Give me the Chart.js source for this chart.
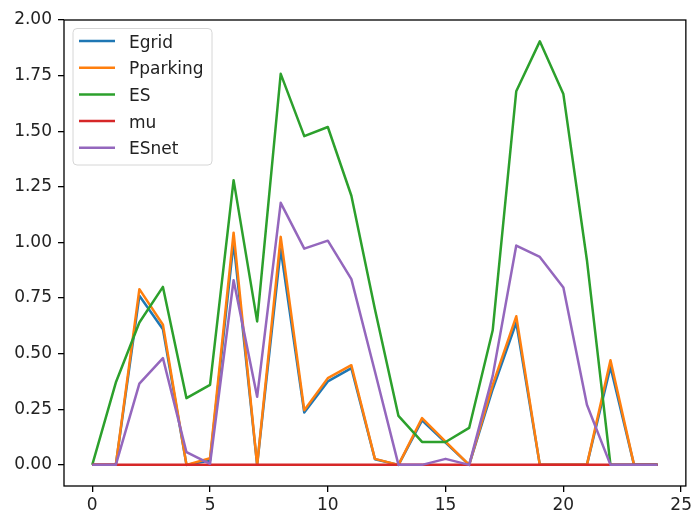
<!DOCTYPE html>
<html lang="en">
<head>
    <meta charset="UTF-8">
    <title>Egrid / Pparking / ES / mu / ESnet</title>
    <script src="https://cdn.jsdelivr.net/npm/chart.js"></script>
    <style>
        body { margin: 0; background: #fff; }
        canvas { display: block; }
    </style>
</head>
<body>
    <canvas id="myChart" width="695" height="516"></canvas>

    <script>
        // values, one per hour
        const hours = [0,1,2,3,4,5,6,7,8,9,10,11,12,13,14,15,16,17,18,19,20,21,22,23,24];
        const egrid = [0,0,0.76,0.61,0,0.02,1.0,0,0.97,0.235,0.375,0.435,0.025,0,0.2,0.1,0,0.34,0.64,0,0,0,0.44,0,0];
        const pparking = [0,0,0.79,0.63,0,0.03,1.044,0,1.025,0.246,0.39,0.448,0.027,0,0.21,0.105,0,0.36,0.668,0,0,0,0.47,0,0];
        const es = [0,0.37,0.64,0.80,0.30,0.36,1.28,0.645,1.758,1.478,1.519,1.21,0.70,0.22,0.103,0.103,0.166,0.605,1.68,1.904,1.667,0.92,0,0,0];
        const mu = [0,0,0,0,0,0,0,0,0,0,0,0,0,0,0,0,0,0,0,0,0,0,0,0,0];
        const esnet = [0,0,0.365,0.48,0.057,0.005,0.83,0.306,1.178,0.972,1.008,0.835,0.42,0,0,0.027,0,0.40,0.986,0.935,0.797,0.27,0,0,0];

        const xTicks = [0,5,10,15,20,25];
        const yTicks = [0,0.25,0.5,0.75,1,1.25,1.5,1.75,2];

        const FONT = "'DejaVu Sans', sans-serif";

        function series(label, values, color, i) {
            return {
                label: label,
                data: values.map((v, k) => ({x: hours[k], y: v})),
                borderColor: color,
                backgroundColor: color,
                borderWidth: 2.5,
                borderJoinStyle: "round",
                pointRadius: 0,
                tension: 0,
                fill: false,
                order: 10 - i   // later series on top, like matplotlib
            };
        }

        // frame + legend box in the top left corner
        const framePlugin = {
            id: "frame",
            afterDraw(chart) {
                const ctx = chart.ctx;
                const a = chart.chartArea;
                ctx.save();
                ctx.strokeStyle = "#000";
                ctx.lineWidth = 1.3;
                ctx.strokeRect(a.left, a.top, a.right - a.left, a.bottom - a.top);

                // legend
                const bx = 73, by = 28.5, bw = 139, bh = 136.5, r = 4;
                ctx.beginPath();
                ctx.moveTo(bx + r, by);
                ctx.arcTo(bx + bw, by, bx + bw, by + bh, r);
                ctx.arcTo(bx + bw, by + bh, bx, by + bh, r);
                ctx.arcTo(bx, by + bh, bx, by, r);
                ctx.arcTo(bx, by, bx + bw, by, r);
                ctx.closePath();
                ctx.fillStyle = "rgba(255,255,255,0.8)";
                ctx.fill();
                ctx.strokeStyle = "#d6d6d6";
                ctx.lineWidth = 1;
                ctx.stroke();

                ctx.font = "17px " + FONT;
                ctx.textBaseline = "alphabetic";
                ctx.textAlign = "left";
                chart.data.datasets.forEach((ds, i) => {
                    const y = 41 + i * 26.7;
                    ctx.strokeStyle = ds.borderColor;
                    ctx.lineWidth = 2.5;
                    ctx.beginPath();
                    ctx.moveTo(79, y);
                    ctx.lineTo(115, y);
                    ctx.stroke();
                    ctx.fillStyle = "#222";
                    ctx.fillText(ds.label, 129, y + 6.5);
                });
                ctx.restore();
            }
        };

        const ctx = document.getElementById("myChart").getContext("2d");
        const chart = new Chart(ctx, {
            type: "line",
            data: {
                datasets: [
                    series("Egrid", egrid, "#1f77b4", 0),
                    series("Pparking", pparking, "#ff7f0e", 1),
                    series("ES", es, "#2ca02c", 2),
                    series("mu", mu, "#d62728", 3),
                    series("ESnet", esnet, "#9467bd", 4)
                ]
            },
            options: {
                responsive: false,
                animation: false,
                devicePixelRatio: 1,
                layout: { padding: { left: 0, right: 5, top: 20, bottom: 0 } },
                plugins: {
                    legend: { display: false },
                    tooltip: { enabled: false }
                },
                scales: {
                    x: {
                        type: "linear",
                        min: -1.2,
                        max: 25.2,
                        afterBuildTicks: axis => { axis.ticks = xTicks.map(v => ({value: v})); },
                        afterFit: axis => { axis.height = 30; },
                        grid: { display: true, drawOnChartArea: false, drawTicks: true, tickLength: 6, color: "#000", lineWidth: 1.3 },
                        border: { display: false },
                        ticks: {
                            padding: 3,
                            maxRotation: 0,
                            color: "#222",
                            font: { family: FONT, size: 17 },
                            callback: v => String(v)
                        }
                    },
                    y: {
                        min: -0.095,
                        max: 2.0,
                        afterBuildTicks: axis => { axis.ticks = yTicks.map(v => ({value: v})); },
                        afterFit: axis => { axis.width = 64; },
                        grid: { display: true, drawOnChartArea: false, drawTicks: true, tickLength: 6, color: "#000", lineWidth: 1.3 },
                        border: { display: false },
                        ticks: {
                            padding: 6,
                            color: "#222",
                            font: { family: FONT, size: 17 },
                            callback: v => Number(v).toFixed(2)
                        }
                    }
                }
            },
            plugins: [framePlugin]
        });
    </script>
</body>
</html>
